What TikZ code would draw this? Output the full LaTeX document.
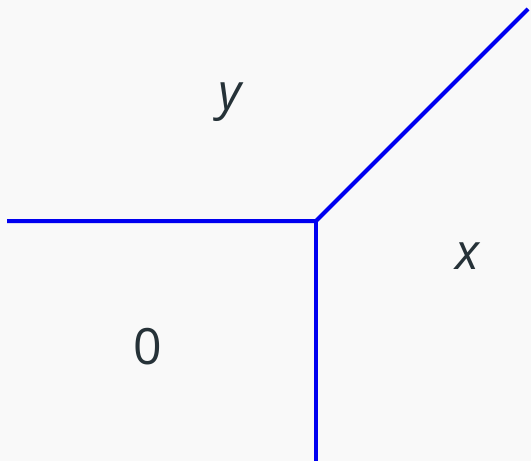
\documentclass[tikz,border=0pt]{standalone}
\usepackage{fontspec}
\setmainfont{Open Sans}
\usepackage{xcolor}
\usetikzlibrary{positioning}
\definecolor{bgGrey}{HTML}{F9F9F9}
\definecolor{lineBlue}{HTML}{0000F0}
\definecolor{labelInk}{HTML}{263238}

\begin{document}
\begin{tikzpicture}[x=1pt,y=-1pt,
  branch/.style={draw=lineBlue,line width=4pt},
  region/.style={text=labelInk,font=\fontsize{50}{60}\selectfont}]
\fill[bgGrey] (0,0) rectangle (531,461);
\useasboundingbox (0,0) rectangle (531,461);
% vertex and the three rays
\coordinate (v) at (316,221);
\coordinate (w) at (7,221);
\coordinate (s) at (316,461);
\coordinate (ne) at (528,9);
\draw[branch] (w) -- (v) -- (ne);
\draw[branch] (v) -- (s);
% regions
\node[region] (ly) at (230,102) {\itshape y};
\node[region] (lx) at (467,256) {\itshape x};
\node[region] (l0) at (148,347) {0};
\end{tikzpicture}
\end{document}
